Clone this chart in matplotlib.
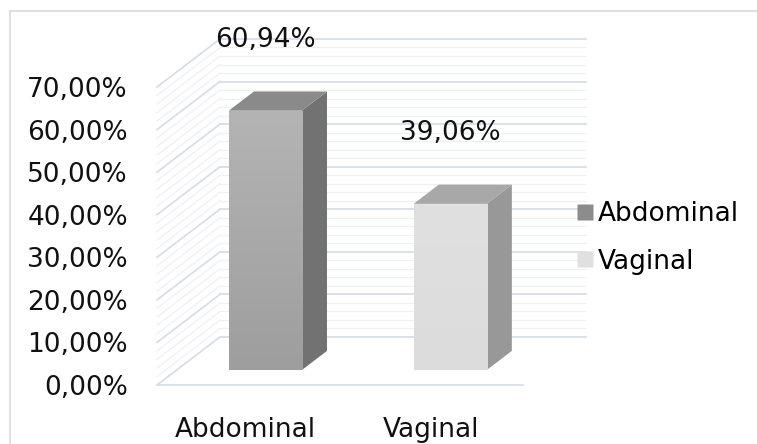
import numpy as np
import matplotlib.pyplot as plt
from matplotlib.patches import Polygon
from matplotlib.lines import Line2D
from matplotlib.colors import LinearSegmentedColormap

categories = ["Abdominal", "Vaginal"]
values = [60.94, 39.06]
value_labels = ["60,94%", "39,06%"]
yticks = [0, 10, 20, 30, 40, 50, 60, 70]
ytick_labels = ["0,00%", "10,00%", "20,00%", "30,00%", "40,00%", "50,00%", "60,00%", "70,00%"]

# face colours per bar: (front top, front bottom, side, top)
faces = [("#b4b4b4", "#9e9e9e", "#727272", "#8a8a8a"),
         ("#e0e0e0", "#dcdcdc", "#989898", "#a8a8a8")]
legend_colors = ["#8c8c8c", "#e0e0e0"]

plt.rcParams["font.family"] = "DejaVu Sans"
fs = 19

fig = plt.figure(figsize=(7.57, 4.44), dpi=100)
ax = fig.add_axes([157 / 757, 59 / 444, 366 / 757, 298 / 444])
xmin, xmax = -0.48, 1.50
ax.set_xlim(xmin, xmax)
ax.set_ylim(0, 70)

# oblique depth vector in data units
DX, DY = 0.341, 11.28
grid_major = "#d8dee8"
grid_minor = "#eef0f4"

# back wall and side wall gridlines
for v in np.arange(0, 71, 2):
    major = v % 10 == 0
    c = grid_major if major else grid_minor
    lw = 1.3 if major else 0.9
    z = 0.5 if major else 0.4
    ax.plot([xmin + DX, xmax + DX], [v + DY, v + DY], color=c, lw=lw,
            clip_on=False, zorder=z)
    ax.plot([xmin, xmin + DX], [v, v + DY], color=c, lw=lw,
            clip_on=False, zorder=z)
# floor front edge
ax.plot([xmin, xmax], [0, 0], color=grid_major, lw=1.3, clip_on=False, zorder=0.5)

# 3D-looking bars
w = 0.395
f0, f1 = 0.31, 0.71
dd = f1 - f0
x = np.arange(len(categories))
bars = ax.bar(x + f0 * DX, values, width=w, bottom=f0 * DY, zorder=2,
              color=[f[1] for f in faces], linewidth=0)

for i, (bar, v) in enumerate(zip(bars, values)):
    ctop, cbot, cside, ctopface = faces[i]
    xl = bar.get_x()
    xr = xl + w
    b = f0 * DY
    # vertical gradient on the front face
    grad = np.linspace(0, 1, 100).reshape(-1, 1)
    cmap = LinearSegmentedColormap.from_list("g%d" % i, [cbot, ctop])
    im = ax.imshow(grad, extent=[xl, xr, b, b + v], origin="lower",
                   cmap=cmap, aspect="auto", zorder=2.1)
    im.set_clip_path(bar)
    side = Polygon([(xr, b), (xr + dd * DX, b + dd * DY),
                    (xr + dd * DX, b + v + dd * DY), (xr, b + v)],
                   closed=True, facecolor=cside, edgecolor="none", zorder=2)
    top = Polygon([(xl, b + v), (xr, b + v),
                   (xr + dd * DX, b + v + dd * DY), (xl + dd * DX, b + v + dd * DY)],
                  closed=True, facecolor=ctopface, edgecolor="none", zorder=2)
    ax.add_patch(side)
    ax.add_patch(top)
    ax.annotate(value_labels[i], (xl + w / 2, b + v), xytext=(0, 51),
                textcoords="offset points", ha="center", va="center",
                fontsize=fs, color="#111111", annotation_clip=False)

ax.set_xlim(xmin, xmax)
ax.set_ylim(0, 70)

ax.set_yticks(yticks)
ax.set_yticklabels(ytick_labels, fontsize=fs, color="#111111")
ax.set_xticks(x)
ax.set_xticklabels(categories, fontsize=fs, color="#111111")
ax.tick_params(axis="y", length=0, pad=21)
ax.tick_params(axis="x", length=0, pad=23)
for s in ax.spines.values():
    s.set_visible(False)
ax.patch.set_alpha(0)

handles = [Line2D([], [], marker="s", linestyle="none", markersize=11,
                  markerfacecolor=c, markeredgecolor="none") for c in legend_colors]
fig.legend(handles, categories, loc="center left", bbox_to_anchor=(578 / 757, 206 / 444),
           frameon=False, fontsize=fs, handlelength=0.55, handletextpad=0.2,
           labelspacing=0.8, borderpad=0, borderaxespad=0)

# outer chart border
fig.add_artist(Line2D([10 / 757, 1], [1 - 11 / 444, 1 - 11 / 444],
                      color="#dce1e8", lw=1.5, transform=fig.transFigure))
fig.add_artist(Line2D([10 / 757, 10 / 757], [0, 1 - 11 / 444],
                      color="#dce1e8", lw=1.5, transform=fig.transFigure))

fig.savefig("out.png", dpi=100)
